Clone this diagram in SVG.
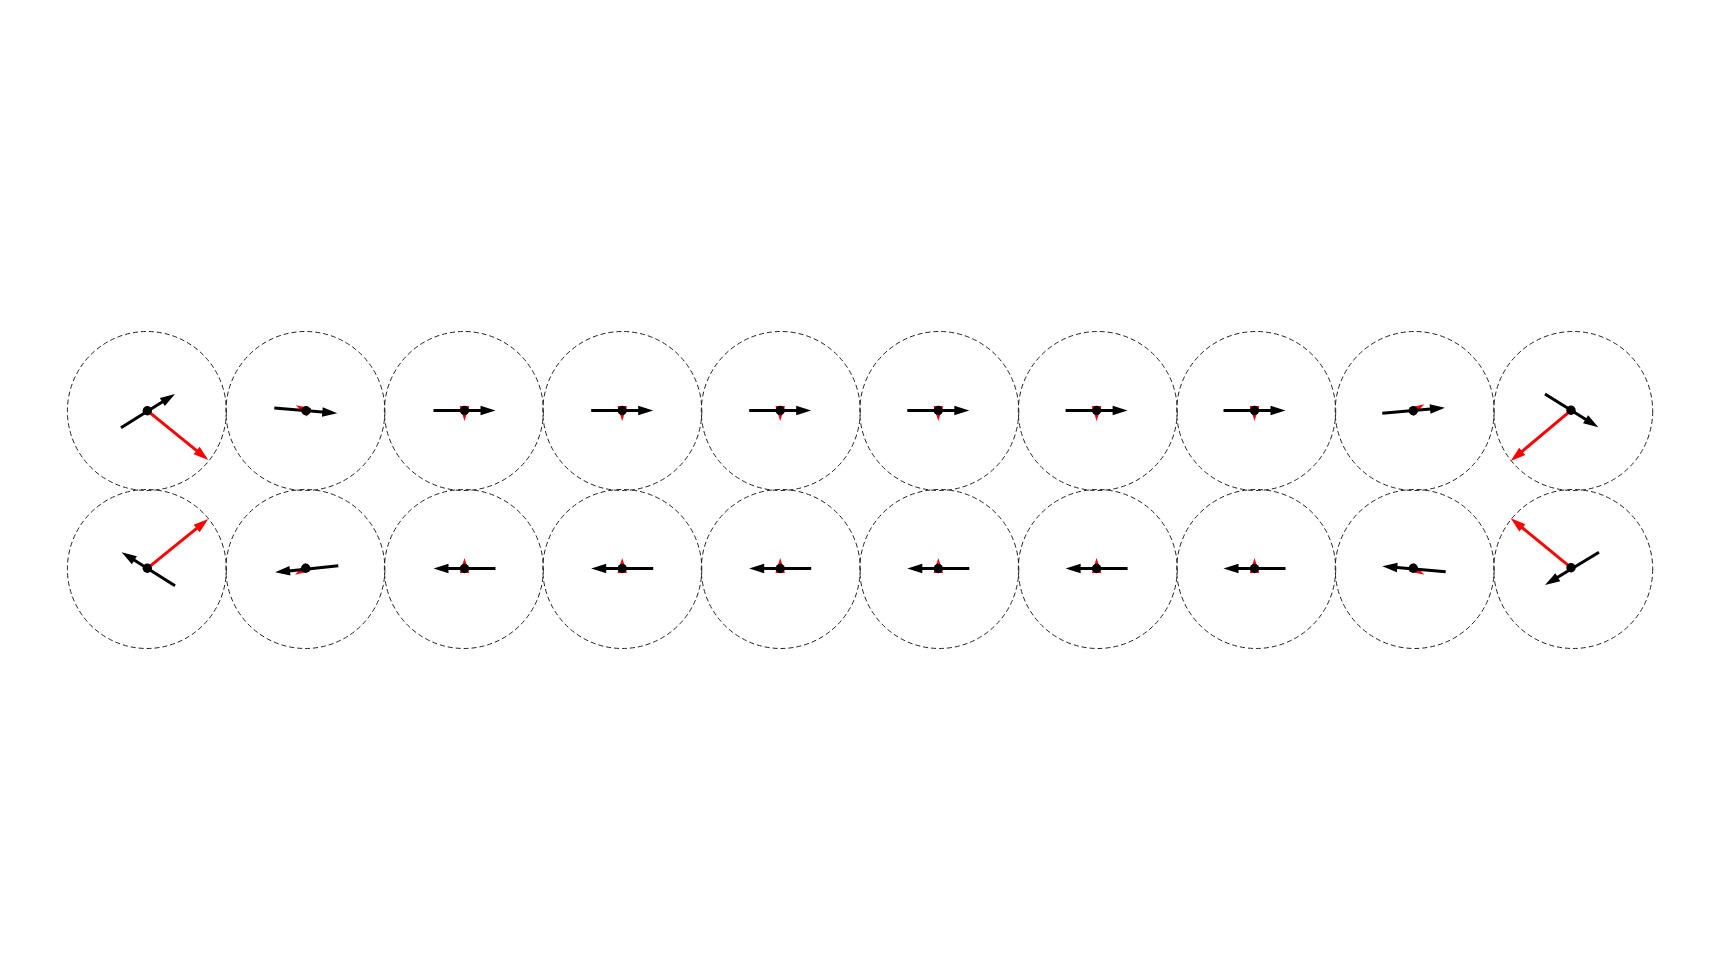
<svg xmlns="http://www.w3.org/2000/svg" width="1719" height="966" viewBox="0 0 1719 966">
<style>
.ring{fill:none;stroke:#222;stroke-width:1;stroke-dasharray:5 3}
.blk{stroke:#000;stroke-width:3;fill:none;marker-end:url(#hb)}
.red{stroke:#f00;stroke-width:3;fill:none;marker-end:url(#hr)}
.dot{fill:#000}
</style>
<defs>
<marker id="hb" markerUnits="userSpaceOnUse" markerWidth="16" markerHeight="10" viewBox="0 -5 16 10" refX="6" refY="0" orient="auto" overflow="visible"><path d="M0,-4.75L15,0L0,4.75z" fill="#000"/></marker>
<marker id="hr" markerUnits="userSpaceOnUse" markerWidth="16" markerHeight="10" viewBox="0 -5 16 10" refX="6" refY="0" orient="auto" overflow="visible"><path d="M0,-4.75L15,0L0,4.75z" fill="#f00"/></marker>
</defs>
<rect width="1719" height="966" fill="#fff"/>
<g id="row1">
<g id="n1-1"><circle class="ring" cx="146.9" cy="411" r="79.5"/><path class="red" d="M147.3,410.7L201.3,454.3"/><path class="blk" d="M121,427.7L167.4,398.8"/><circle class="dot" cx="147.3" cy="410.7" r="4.7"/></g>
<g id="n1-2"><circle class="ring" cx="305.4" cy="411" r="79.5"/><path class="red" d="M306,410.7L303.8,409.5"/><path class="blk" d="M274.3,408L328.3,412.55"/><circle class="dot" cx="306" cy="410.7" r="4.7"/></g>
<g id="n1-3"><circle class="ring" cx="463.9" cy="411" r="79.5"/><path class="red" d="M464.5,410.5L464.5,412"/><path class="blk" d="M433.5,410.5L486.5,410.5"/><circle class="dot" cx="464.5" cy="410.5" r="4.7"/></g>
<g id="n1-4"><circle class="ring" cx="622.3" cy="411" r="79.5"/><path class="red" d="M622.2,410.5L622.2,412"/><path class="blk" d="M591.2,410.5L644.2,410.5"/><circle class="dot" cx="622.2" cy="410.5" r="4.7"/></g>
<g id="n1-5"><circle class="ring" cx="780.8" cy="411" r="79.5"/><path class="red" d="M780.2,410.5L780.2,412"/><path class="blk" d="M749.2,410.5L802.2,410.5"/><circle class="dot" cx="780.2" cy="410.5" r="4.7"/></g>
<g id="n1-6"><circle class="ring" cx="939.3" cy="411" r="79.5"/><path class="red" d="M938.3,410.5L938.3,412"/><path class="blk" d="M907.3,410.5L960.3,410.5"/><circle class="dot" cx="938.3" cy="410.5" r="4.7"/></g>
<g id="n1-7"><circle class="ring" cx="1097.8" cy="411" r="79.5"/><path class="red" d="M1096.6,410.5L1096.6,412"/><path class="blk" d="M1065.6,410.5L1118.6,410.5"/><circle class="dot" cx="1096.6" cy="410.5" r="4.7"/></g>
<g id="n1-8"><circle class="ring" cx="1256.2" cy="411" r="79.5"/><path class="red" d="M1254.5,410.5L1254.5,412"/><path class="blk" d="M1223.5,410.5L1276.5,410.5"/><circle class="dot" cx="1254.5" cy="410.5" r="4.7"/></g>
<g id="n1-9"><circle class="ring" cx="1414.7" cy="411" r="79.5"/><path class="red" d="M1413.3,410.7L1416.5,408.8"/><path class="blk" d="M1382.3,413.3L1436,408.5"/><circle class="dot" cx="1413.3" cy="410.7" r="4.7"/></g>
<g id="n1-10"><circle class="ring" cx="1573.2" cy="411" r="79.5"/><path class="red" d="M1571,410.3L1517.6,455.2"/><path class="blk" d="M1545,394L1590.7,422.5"/><circle class="dot" cx="1571" cy="410.3" r="4.7"/></g>
</g>
<g id="row2">
<g id="n2-1"><circle class="ring" cx="146.9" cy="569" r="79.5"/><path class="red" d="M147.3,568.3L201.3,524.7"/><path class="blk" d="M175,585.7L129.3,557.1"/><circle class="dot" cx="147.3" cy="568.3" r="4.7"/></g>
<g id="n2-2"><circle class="ring" cx="305.4" cy="569" r="79.5"/><path class="red" d="M305.7,568.3L302.8,570.1"/><path class="blk" d="M338.3,565.7L284,571.4"/><circle class="dot" cx="305.7" cy="568.3" r="4.7"/></g>
<g id="n2-3"><circle class="ring" cx="463.9" cy="569" r="79.5"/><path class="red" d="M464.5,568.5L464.5,567"/><path class="blk" d="M495.5,568.5L442.5,568.5"/><circle class="dot" cx="464.5" cy="568.5" r="4.7"/></g>
<g id="n2-4"><circle class="ring" cx="622.3" cy="569" r="79.5"/><path class="red" d="M622.2,568.5L622.2,567"/><path class="blk" d="M653.2,568.5L600.2,568.5"/><circle class="dot" cx="622.2" cy="568.5" r="4.7"/></g>
<g id="n2-5"><circle class="ring" cx="780.8" cy="569" r="79.5"/><path class="red" d="M780.2,568.5L780.2,567"/><path class="blk" d="M811.2,568.5L758.2,568.5"/><circle class="dot" cx="780.2" cy="568.5" r="4.7"/></g>
<g id="n2-6"><circle class="ring" cx="939.3" cy="569" r="79.5"/><path class="red" d="M938.3,568.5L938.3,567"/><path class="blk" d="M969.3,568.5L916.3,568.5"/><circle class="dot" cx="938.3" cy="568.5" r="4.7"/></g>
<g id="n2-7"><circle class="ring" cx="1097.8" cy="569" r="79.5"/><path class="red" d="M1096.6,568.5L1096.6,567"/><path class="blk" d="M1127.6,568.5L1074.6,568.5"/><circle class="dot" cx="1096.6" cy="568.5" r="4.7"/></g>
<g id="n2-8"><circle class="ring" cx="1256.2" cy="569" r="79.5"/><path class="red" d="M1254.5,568.5L1254.5,567"/><path class="blk" d="M1285.5,568.5L1232.5,568.5"/><circle class="dot" cx="1254.5" cy="568.5" r="4.7"/></g>
<g id="n2-9"><circle class="ring" cx="1414.7" cy="569" r="79.5"/><path class="red" d="M1413.3,568.3L1416.5,570.2"/><path class="blk" d="M1445.7,571.7L1391.3,567.1"/><circle class="dot" cx="1413.3" cy="568.3" r="4.7"/></g>
<g id="n2-10"><circle class="ring" cx="1573.2" cy="569" r="79.5"/><path class="red" d="M1571,567.7L1517.7,524"/><path class="blk" d="M1599,552.3L1552.7,580.3"/><circle class="dot" cx="1571" cy="567.7" r="4.7"/></g>
</g>
<g id="connectors"/>
</svg>
